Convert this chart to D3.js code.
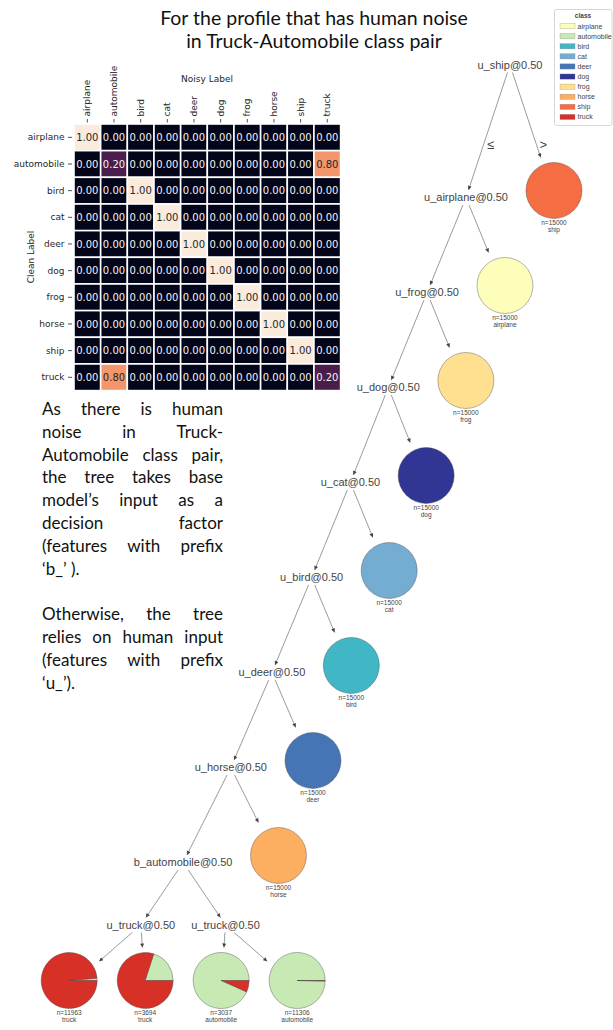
<!DOCTYPE html>
<html>
<head>
<meta charset="utf-8">
<script src="https://cdn.jsdelivr.net/npm/d3@7"></script>
<style>
  html, body { margin: 0; padding: 0; background: #fff; }
  svg { display: block; }
</style>
</head>
<body>
<svg id="fig" width="613" height="1030"></svg>
<script>
// ---------------- data ----------------
const classes = ["airplane", "automobile", "bird", "cat", "deer", "dog", "frog", "horse", "ship", "truck"];
const classColors = ["#FEFEBB", "#c7e9b4", "#41b6c4", "#74add1", "#4575b4", "#313695", "#fee090", "#fdae61", "#f46d43", "#d73027"];

// label transition matrix: rows = clean label, columns = noisy label
const noiseRows = [
  [1, 0, 0, 0, 0, 0, 0, 0, 0, 0],
  [0, 0.2, 0, 0, 0, 0, 0, 0, 0, 0.8],
  [0, 0, 1, 0, 0, 0, 0, 0, 0, 0],
  [0, 0, 0, 1, 0, 0, 0, 0, 0, 0],
  [0, 0, 0, 0, 1, 0, 0, 0, 0, 0],
  [0, 0, 0, 0, 0, 1, 0, 0, 0, 0],
  [0, 0, 0, 0, 0, 0, 1, 0, 0, 0],
  [0, 0, 0, 0, 0, 0, 0, 1, 0, 0],
  [0, 0, 0, 0, 0, 0, 0, 0, 1, 0],
  [0, 0.8, 0, 0, 0, 0, 0, 0, 0, 0.2]
];

const titleLines = ["For the profile that has human noise", "in Truck-Automobile class pair"];
const noteParagraphs = [
  ["As there is human", "noise in Truck-", "Automobile class pair,", "the tree takes base",
   "model\u2019s input as a", "decision factor", "(features with prefix", "\u2018b_\u2019 )."],
  ["Otherwise, the tree", "relies on human input", "(features with prefix", "\u2018u_\u2019)."]
];

// decision tree: each split on the main path sends ">" to a pure leaf of that class
const pathFeatures = ["u_ship", "u_airplane", "u_frog", "u_dog", "u_cat", "u_bird", "u_deer", "u_horse"];
const pathLeafCounts = [15000, 15000, 15000, 15000, 15000, 15000, 15000, 15000];
const baseFeature = "b_automobile";
const truckFeature = "u_truck";
const splitThreshold = 0.5;
// the four mixed leaves under b_automobile (left to right)
const mixedAutomobile = [161, 739, 2834, 11266];
const mixedTruck = [11802, 2955, 203, 40];

// ---------------- styling ----------------
const W = 613, H = 1030;
const svg = d3.select("#fig");
svg.append("rect").attr("width", W).attr("height", H).attr("fill", "#fff");

const sansUI = "'DejaVu Sans', sans-serif";
const treeFont = "'Liberation Sans', Arial, sans-serif";
const proseFont = "Lato, 'Noto Sans', sans-serif";

// ---------------- title ----------------
svg.append("g").selectAll("text").data(titleLines).join("text")
  .attr("x", 314).attr("y", (d, i) => 25 + i * 23)
  .attr("text-anchor", "middle")
  .attr("font-family", proseFont).attr("font-size", 19.5).attr("fill", "#111")
  .text(d => d);

// ---------------- heatmap ----------------
const rocket = d3.scaleLinear()
  .domain(d3.range(11).map(i => i / 10))
  .range(["#03051a", "#221331", "#4a1d4d", "#6a1f56", "#921c5b", "#b91657", "#d92847", "#f06043", "#f4966c", "#f6c1a5", "#faebdd"])
  .interpolate(d3.interpolateRgb);

const hx = d3.scaleBand().domain(classes).range([74, 340.6]);
const hy = d3.scaleBand().domain(classes).range([124, 390.6]);

const cells = [];
noiseRows.forEach((row, r) => row.forEach((v, c) => cells.push({ r: classes[r], c: classes[c], v })));

const hm = svg.append("g");
hm.selectAll("rect").data(cells).join("rect")
  .attr("x", d => hx(d.c)).attr("y", d => hy(d.r))
  .attr("width", hx.bandwidth()).attr("height", hy.bandwidth())
  .attr("fill", d => rocket(d.v))
  .attr("stroke", "#fff").attr("stroke-width", 1.6);

hm.selectAll("text.annot").data(cells).join("text").attr("class", "annot")
  .attr("x", d => hx(d.c) + hx.bandwidth() / 2)
  .attr("y", d => hy(d.r) + hy.bandwidth() / 2)
  .attr("dy", "0.36em").attr("text-anchor", "middle")
  .attr("font-family", sansUI).attr("font-size", 10)
  .attr("fill", d => d3.hcl(rocket(d.v)).l > 55 ? "#262626" : "#f2f2f2")
  .text(d => d.v.toFixed(2));

const yAxis = svg.append("g").attr("transform", "translate(72,0)")
  .call(d3.axisLeft(hy).tickSize(4).tickPadding(3.5));
yAxis.select(".domain").remove();
yAxis.selectAll("text").attr("font-family", sansUI).attr("font-size", 9).attr("fill", "#262626");
yAxis.selectAll("line").attr("stroke", "#262626").attr("stroke-width", 0.8);

const xAxis = svg.append("g").attr("transform", "translate(0,122.5)")
  .call(d3.axisTop(hx).tickSize(3.5).tickPadding(2));
xAxis.select(".domain").remove();
xAxis.selectAll("line").attr("stroke", "#262626").attr("stroke-width", 0.8);
xAxis.selectAll("text")
  .attr("transform", "rotate(-90)")
  .attr("x", 6).attr("y", 0).attr("dy", "0.34em")
  .attr("text-anchor", "start")
  .attr("font-family", sansUI).attr("font-size", 9).attr("fill", "#262626");

svg.append("text").attr("x", 207).attr("y", 81.5).attr("text-anchor", "middle")
  .attr("font-family", sansUI).attr("font-size", 9).attr("fill", "#262626").text("Noisy Label");
svg.append("text").attr("transform", "translate(33.5,257) rotate(-90)").attr("text-anchor", "middle")
  .attr("font-family", sansUI).attr("font-size", 9).attr("fill", "#262626").text("Clean Label");

// ---------------- justified note ----------------
const noteX = 42, noteWidth = 181, noteTop = 415, noteLead = 22.8, noteSize = 17;
const note = svg.append("g").attr("font-family", proseFont).attr("font-size", noteSize).attr("fill", "#111");
const probe = note.append("text").text("x x");
const probe2 = note.append("text").text("xx");
const spaceW = probe.node().getComputedTextLength() - probe2.node().getComputedTextLength();
probe.remove(); probe2.remove();

let lineIndex = 0;
noteParagraphs.forEach((para, p) => {
  para.forEach((line, i) => {
    const y = noteTop + lineIndex * noteLead;
    const words = line.split(" ");
    const ts = words.map(w => note.append("text").attr("y", y).text(w));
    const ws = ts.map(t => t.node().getComputedTextLength());
    const last = i === para.length - 1;
    const gap = (!last && words.length > 1) ? (noteWidth - d3.sum(ws)) / (words.length - 1) : spaceW;
    let x = noteX;
    ts.forEach((t, k) => { t.attr("x", x); x += ws[k] + gap; });
    lineIndex++;
  });
  lineIndex++; // blank line between paragraphs
});

// ---------------- decision tree ----------------
function leafFrom(counts) { return { leaf: true, counts }; }
const mixedLeaves = mixedAutomobile.map((a, i) =>
  leafFrom(classes.map(c => c === "automobile" ? a : c === "truck" ? mixedTruck[i] : 0)));
let subtree = {
  feature: baseFeature,
  children: [
    { feature: truckFeature, children: [mixedLeaves[0], mixedLeaves[1]] },
    { feature: truckFeature, children: [mixedLeaves[2], mixedLeaves[3]] }
  ]
};
for (let i = pathFeatures.length - 1; i >= 0; i--) {
  const cls = pathFeatures[i].slice(2);
  subtree = {
    feature: pathFeatures[i],
    children: [subtree, leafFrom(classes.map(c => c === cls ? pathLeafCounts[i] : 0))]
  };
}

const treeOrigin = [510, 65];
const leafR = 28, leafHalfW = 30, leafHalfH = 40, leafDrop = 7;
const textHalfH = 7.5, nodeGap = 16, rankGap = 15, edgeLabelSpace = 70;
const splitLabel = d => `${d.feature}@${splitThreshold.toFixed(2)}`;

const root = d3.hierarchy(subtree);
const tg = svg.append("g");
const meas = tg.append("text").attr("font-family", treeFont).attr("font-size", 11);
root.each(n => {
  if (n.data.leaf) { n.hw = leafHalfW; n.hh = leafHalfH; }
  else {
    meas.text(splitLabel(n.data));
    n.tw = meas.node().getComputedTextLength();
    n.hw = n.tw / 2; n.hh = textHalfH;
  }
});
meas.remove();

d3.tree().nodeSize([1, 1]).separation((a, b) => a.hw + b.hw + nodeGap)(root);

// pull parents of leaf pairs in toward their own parent as far as labels allow
root.each(n => {
  if (n.children && n.children.length === 2 &&
      n.children.every(c => c.children && c.children.every(g => !g.children))) {
    const [a, b] = n.children;
    const half = (a.hw + b.hw + nodeGap) / 2;
    a.x = n.x - half; b.x = n.x + half;
  }
});

// rank heights
const rankHalf = d3.range(root.height + 1).map(d =>
  d3.max(root.descendants().filter(n => n.depth === d), n => n.hh));
const rankY = [0];
for (let d = 1; d <= root.height; d++) {
  rankY[d] = rankY[d - 1] + rankHalf[d - 1] + rankGap + rankHalf[d] + (d === 1 ? edgeLabelSpace : 0);
}
root.each(n => { n.px = treeOrigin[0] + n.x; n.py = treeOrigin[1] + rankY[n.depth]; });

// arrow marker
svg.append("defs").append("marker")
  .attr("id", "arrow").attr("viewBox", "0 0 10 10")
  .attr("refX", 10).attr("refY", 5)
  .attr("markerUnits", "userSpaceOnUse")
  .attr("markerWidth", 5).attr("markerHeight", 4)
  .attr("orient", "auto")
  .append("path").attr("d", "M0,0L10,5L0,10z").attr("fill", "#444");

function clip(n, tx, ty) {
  const dx = tx - n.px, dy = ty - n.py;
  const hw = n.data.leaf ? leafHalfW : n.hw + 2;
  const hh = n.data.leaf ? leafHalfH : textHalfH;
  const t = Math.min(dx ? hw / Math.abs(dx) : Infinity, dy ? hh / Math.abs(dy) : Infinity);
  return [n.px + dx * t, n.py + dy * t];
}

const links = root.links().map(l => {
  const a = clip(l.source, l.target.px, l.target.py);
  const b = clip(l.target, l.source.px, l.source.py);
  return { l, a, b };
});

tg.selectAll("line.edge").data(links).join("line").attr("class", "edge")
  .attr("x1", d => d.a[0]).attr("y1", d => d.a[1])
  .attr("x2", d => d.b[0]).attr("y2", d => d.b[1])
  .attr("stroke", "#555").attr("stroke-width", 0.6)
  .attr("marker-end", "url(#arrow)");

// comparison labels on the root edges
const rootLinks = links.filter(d => d.l.source.depth === 0);
tg.selectAll("text.cmp").data(rootLinks).join("text").attr("class", "cmp")
  .each(function (d, i) {
    const ly = d.l.source.py + 0.6 * (d.l.target.py - d.l.source.py);
    const t = (ly - d.a[1]) / (d.b[1] - d.a[1]);
    const lx = d.a[0] + t * (d.b[0] - d.a[0]);
    d3.select(this).attr("x", lx + 7).attr("y", ly).attr("dy", "0.35em");
  })
  .attr("text-anchor", "middle")
  .attr("font-family", treeFont).attr("font-size", 13).attr("fill", "#444")
  .text((d, i) => i === 0 ? "\u2264" : ">");

// split labels
const splits = root.descendants().filter(n => !n.data.leaf);
tg.selectAll("text.split").data(splits).join("text").attr("class", "split")
  .attr("x", d => d.px).attr("y", d => d.py).attr("dy", "0.36em")
  .attr("text-anchor", "middle")
  .attr("font-family", treeFont).attr("font-size", 11).attr("fill", "#444")
  .text(d => splitLabel(d.data));

// leaves: class-distribution pies
const pie = d3.pie().sort(null).value(d => d.count)
  .startAngle(Math.PI / 2).endAngle(Math.PI / 2 - 2 * Math.PI);
const arc = d3.arc().innerRadius(0).outerRadius(leafR);
const leaves = root.leaves();

const lg = tg.selectAll("g.leaf").data(leaves).join("g").attr("class", "leaf")
  .attr("transform", d => `translate(${d.px},${d.py - leafDrop})`);
lg.each(function (d) {
  const parts = classes.map((c, i) => ({ cls: c, color: classColors[i], count: d.data.counts[i] }))
    .filter(p => p.count > 0);
  const g = d3.select(this);
  if (parts.length === 1) {
    g.append("circle").attr("r", leafR).attr("fill", parts[0].color)
      .attr("stroke", "#444").attr("stroke-width", 0.4);
  } else {
    g.selectAll("path").data(pie(parts)).join("path")
      .attr("d", arc).attr("fill", p => p.data.color)
      .attr("stroke", "#444").attr("stroke-width", 0.4);
  }
  const n = d3.sum(d.data.counts);
  const major = classes[d3.maxIndex(d.data.counts)];
  g.append("text").attr("y", leafR + 6.5).attr("text-anchor", "middle")
    .attr("font-family", treeFont).attr("font-size", 6.5).attr("fill", "#444")
    .text(`n=${n}`);
  g.append("text").attr("y", leafR + 13.5).attr("text-anchor", "middle")
    .attr("font-family", treeFont).attr("font-size", 6.5).attr("fill", "#444")
    .text(major);
});

// ---------------- legend ----------------
const leg = svg.append("g");
leg.append("rect").attr("x", 554.5).attr("y", 9.5).attr("width", 57.5).attr("height", 116)
  .attr("rx", 2).attr("fill", "#fff").attr("stroke", "#cccccc").attr("stroke-width", 0.8);
leg.append("text").attr("x", 583).attr("y", 18).attr("text-anchor", "middle")
  .attr("font-family", treeFont).attr("font-size", 6.5).attr("font-weight", "bold").attr("fill", "#444")
  .text("class");
const ly = d3.scaleBand().domain(classes).range([21, 122]);
const items = leg.selectAll("g.item").data(classes).join("g").attr("class", "item")
  .attr("transform", d => `translate(0,${ly(d) + ly.bandwidth() / 2})`);
items.append("rect").attr("x", 560).attr("y", -2.6).attr("width", 15).attr("height", 5.2)
  .attr("fill", (d, i) => classColors[i]).attr("stroke", "#888").attr("stroke-width", 0.3);
items.append("text").attr("x", 577.5).attr("dy", "0.35em")
  .attr("font-family", treeFont).attr("font-size", 7).attr("fill", "#444")
  .text(d => d);
</script>
</body>
</html>
